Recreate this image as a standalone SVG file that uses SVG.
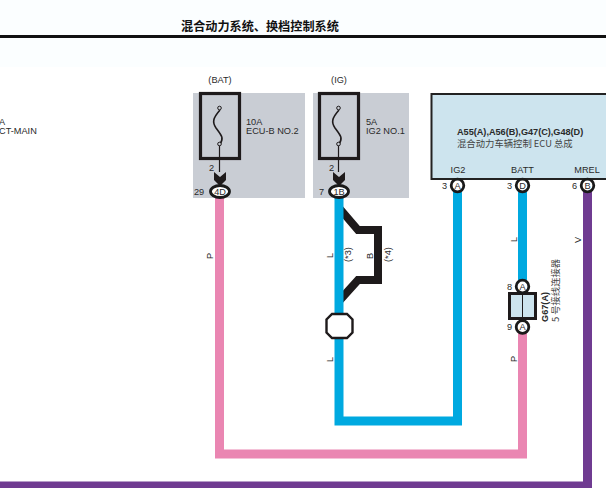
<svg xmlns="http://www.w3.org/2000/svg" width="606" height="488" viewBox="0 0 606 488">
<style>
text{font-family:"Liberation Sans","Noto Sans CJK SC",sans-serif;font-size:9.200px;fill:#2a2a2a}
.cjk{font-family:"Noto Sans CJK SC","Liberation Sans",sans-serif}
.w{fill:none;stroke-width:9;stroke-linejoin:miter}
.pin{fill:#fff;stroke:#1a1a1a;stroke-width:2.800}
.fuse{fill:none;stroke:#1e1a1b;stroke-width:3.200}
.wire{fill:none;stroke:#1e1a1b;stroke-width:1.600}
.m{text-anchor:middle}
</style>
<rect width="606" height="488" fill="#fff"/>
<rect width="606" height="67" fill="#fbfeff"/>
<g id="header">
<rect x="0" y="35" width="606" height="3" fill="#111"/>
<text x="181" y="31" class="cjk" style="font-size:12.150px;font-weight:700;fill:#111">混合动力系统、换档控制系统</text>
</g>
<g id="left-fragment">
<text x="-1" y="125">A</text>
<text x="-1" y="134">CT-MAIN</text>
</g>
<g id="connectors">
<path fill="none" stroke="#1e1a1b" stroke-width="8" d="M340 209L358 230H378V280H358L340 300"/>
<path class="w" stroke="#ea86b2" d="M219.500 197V454H522.500V330"/>
<path class="w" stroke="#00a9e0" d="M339 197V421H457.500V190"/>
<path class="w" stroke="#00a9e0" d="M522.500 190V292"/>
<path class="w" stroke="#6f3b91" d="M587.500 190V486H0"/>
</g>
<g id="fuse-bat">
<rect x="193" y="93" width="112" height="105" fill="#c9cdd4"/>
<rect x="200.500" y="93.500" width="39" height="65" class="fuse"/>
<path d="M220 110C213 118 212 122 216 128C222 136 224 138 220 144" class="wire"/>
<path d="M219.500 144V172" fill="none" stroke="#1e1a1b" stroke-width="1.200"/>
<circle cx="219.500" cy="108" r="1.800" fill="#c9cdd4" stroke="#1e1a1b"/>
<circle cx="219.500" cy="144" r="1.800" fill="#c9cdd4" stroke="#1e1a1b"/>
<path d="M214 172L220 177L226 172V180L220 186L214 180Z" fill="#1e1a1b"/>
<ellipse cx="220" cy="191.500" rx="9.500" ry="6" class="pin"/>
<text x="220" y="83" class="m">(BAT)</text>
<text x="246" y="125">10A</text>
<text x="246" y="134">ECU-B NO.2</text>
<text x="209" y="171">2</text>
<text x="194" y="194.500">29</text>
<text x="220" y="194.700" class="m">4D</text>
</g>
<g id="fuse-ig">
<rect x="313" y="93" width="96" height="105" fill="#c9cdd4"/>
<rect x="319.500" y="93.500" width="39" height="65" class="fuse"/>
<path d="M339 110C332 118 331 122 335 128C341 136 343 138 339 144" class="wire"/>
<path d="M338.500 144V172" fill="none" stroke="#1e1a1b" stroke-width="1.200"/>
<circle cx="338.500" cy="108" r="1.800" fill="#c9cdd4" stroke="#1e1a1b"/>
<circle cx="338.500" cy="144" r="1.800" fill="#c9cdd4" stroke="#1e1a1b"/>
<path d="M333 172L339 177L345 172V180L339 186L333 180Z" fill="#1e1a1b"/>
<ellipse cx="339" cy="191.500" rx="9.500" ry="6" class="pin"/>
<text x="339" y="83" class="m">(IG)</text>
<text x="366" y="125">5A</text>
<text x="366" y="134">IG2 NO.1</text>
<text x="329" y="171">2</text>
<text x="319" y="194.500">7</text>
<text x="339" y="194.700" class="m">1B</text>
</g>
<g id="ecu">
<rect x="431.500" y="94" width="180" height="85" fill="#cde4ee" stroke="#222" stroke-width="2"/>
<text x="457" y="135" style="font-weight:700;font-size:9.150px">A55(A),A56(B),G47(C),G48(D)</text>
<text x="457" y="146.500" class="cjk" style="font-size:9.350px;fill:#444">混合动力车辆控制 ECU 总成</text>
<text x="458" y="173" class="m">IG2</text>
<text x="522.500" y="173" class="m">BATT</text>
<text x="587" y="173" class="m">MREL</text>
</g>
<g id="pin-ig2"><circle cx="457.500" cy="185.500" r="6.300" class="pin"/><text x="457.500" y="188.700" class="m">A</text><text x="442" y="188.500">3</text></g>
<g id="pin-batt"><circle cx="522.500" cy="185.500" r="6.300" class="pin"/><text x="522.500" y="188.700" class="m">D</text><text x="507" y="188.500">3</text></g>
<g id="pin-mrel"><circle cx="587.500" cy="185.500" r="6.300" class="pin"/><text x="587.500" y="188.700" class="m">B</text><text x="572" y="188.500">6</text></g>
<g id="splice"><polygon points="332,314 347,314 352.500,319.500 352.500,332.500 347,338 332,338 326.500,332.500 326.500,319.500" fill="#fff" stroke="#1e1a1b" stroke-width="2.400"/></g>
<g id="g67">
<rect x="509.500" y="293.500" width="26" height="25" fill="#cde4ee" stroke="#1e1a1b" stroke-width="3"/>
<line x1="522.500" y1="294" x2="522.500" y2="318" stroke="#1e1a1b"/>
<circle cx="522.500" cy="286.500" r="6.300" class="pin"/><text x="522.500" y="289.700" class="m">A</text><text x="507" y="289.500">8</text>
<circle cx="522.500" cy="327" r="6.300" class="pin"/><text x="522.500" y="330.200" class="m">A</text><text x="507" y="330">9</text>
<text transform="translate(548 322) rotate(-90)" style="font-weight:700;font-size:9.200px">G67(A)</text>
<text transform="translate(559 322) rotate(-90)" class="cjk" style="font-size:9.300px;fill:#444">5 号接线连接器</text>
</g>
<g id="wire-labels">
<text transform="translate(213 259) rotate(-90)">P</text>
<text transform="translate(333 258) rotate(-90)">L</text>
<text transform="translate(351 262) rotate(-90)">(*3)</text>
<text transform="translate(373 259) rotate(-90)">B</text>
<text transform="translate(391 262) rotate(-90)">(*4)</text>
<text transform="translate(333 362) rotate(-90)">L</text>
<text transform="translate(517 242) rotate(-90)">L</text>
<text transform="translate(517 362) rotate(-90)">P</text>
<text transform="translate(581 243) rotate(-90)">V</text>
</g>
</svg>
